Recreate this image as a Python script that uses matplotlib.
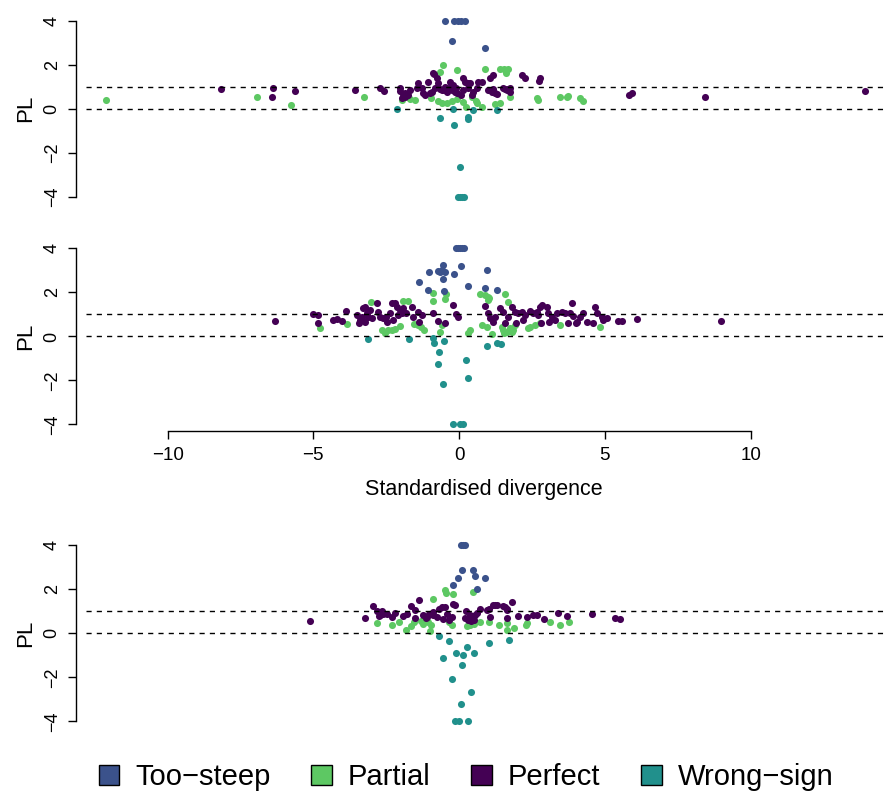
import matplotlib
matplotlib.use("Agg")
import matplotlib.pyplot as plt
import matplotlib.patches as mpatches

plt.rcParams["font.family"] = ["Liberation Sans", "DejaVu Sans"]

# ---- data (standardised divergence, PL) ----
CATEGORIES = ["Too\u2212steep", "Partial", "Perfect", "Wrong\u2212sign"]
REF_LEVELS = [0, 1]
Y_TICKS = [-4, -2, 0, 2, 4]
X_TICKS = [-10, -5, 0, 5, 10]
X_LABEL = "Standardised divergence"
Y_LABEL = "PL"

top_steep = [(-0.48, 4), (-0.16, 4), (-0.05, 4), (0.07, 4), (0.19, 4),
             (-0.23, 3.07), (0.89, 2.75)]
top_partial = [(-12.11, 0.38), (-6.94, 0.52), (-5.78, 0.15), (-3.26, 0.55),
               (-1.95, 0.38), (-1.68, 0.44), (-1.51, 0.39), (-0.97, 0.48),
               (-0.73, 0.33), (-0.6, 0.27), (-0.43, 0.24), (-0.25, 0.36),
               (-0.08, 0.42), (-0.66, 1.68), (-0.54, 1.98), (-0.07, 1.74),
               (0.14, 0.30), (0.24, 0.09), (0.43, 0.52), (0.57, 0.36),
               (0.6, 0.24), (0.78, 0.09), (0.9, 1.79), (1.23, 0.21),
               (1.41, 0.27), (1.40, 1.8), (1.54, 1.82), (1.67, 1.8),
               (1.61, 1.61), (1.75, 0.54), (2.66, 0.5), (2.7, 0.39),
               (3.46, 0.52), (3.69, 0.54), (3.75, 0.59), (4.15, 0.47),
               (4.24, 0.36)]
top_perfect = [(-8.16, 0.9), (-6.4, 0.96), (-6.42, 0.55), (-5.63, 0.78),
               (-3.56, 0.84), (-2.72, 0.95), (-2.57, 0.82), (5.84, 0.62),
               (5.93, 0.7), (8.45, 0.53), (13.91, 0.79),
               (-2.03, 0.92), (-1.86, 0.7), (-1.8, 0.62), (-1.91, 0.59),
               (-1.68, 0.85), (-1.45, 0.92), (-1.4, 1.15), (-1.28, 0.92),
               (-1.23, 0.7), (-1.17, 0.62), (-1.06, 1.22), (-0.94, 0.77),
               (-0.83, 0.92), (-0.89, 1.61), (-0.77, 1.38), (-0.71, 1.15),
               (-0.6, 0.85), (-0.48, 1.0), (-0.43, 0.77), (-0.34, 0.92),
               (-0.25, 0.85), (-0.2, 1.08), (-0.14, 0.74), (-0.31, 1.23),
               (0.14, 1.38), (0.2, 1.22), (0.32, 0.92), (0.37, 1.15),
               (0.49, 0.77), (0.6, 0.92), (0.66, 1.23), (0.78, 1.23),
               (1.06, 1.38), (1.15, 1.53), (1.0, 0.85), (1.12, 0.77),
               (1.23, 0.70), (1.52, 0.92), (1.63, 0.85), (1.75, 0.92),
               (2.15, 1.53), (2.26, 1.38), (2.78, 1.38), (2.75, 1.26),
               (-0.85, 1.57), (-0.66, 0.88), (-0.52, 0.85), (-0.08, 0.70),
               (0.14, 0.85), (0.32, 1.18), (-1.74, 0.62), (1.17, 0.88),
               (1.29, 0.67), (1.57, 0.88), (1.69, 0.88), (1.75, 0.77),
               (-1.0, 0.7), (-0.1, 0.95), (0.05, 0.6), (0.45, 0.62),
               (-2.04, 0.78), (-1.85, 0.55), (-1.96, 0.47)]
top_wrong = [(-2.14, -0.02), (-0.64, -0.42), (-0.22, -0.02), (-0.19, -0.73),
             (0.03, -2.65), (-0.05, -4), (0.03, -4), (0.1, -4), (0.17, -4),
             (0.32, -0.46), (0.29, -0.37), (0.48, -0.07), (1.29, -0.07)]

mid_steep = [(-0.12, 4), (-0.04, 4), (0.04, 4), (0.1, 4), (0.17, 4),
             (-0.56, 3.24), (-0.6, 3.02), (-0.66, 2.94), (-0.48, 2.94),
             (-0.71, 2.98), (-1.02, 2.92), (-0.16, 2.84), (0.07, 3.2),
             (0.95, 3.0), (-0.55, 2.6), (-1.39, 2.47), (0.31, 2.31),
             (0.9, 2.22), (1.29, 2.11), (-1.05, 2.09), (-0.52, 2.06)]
mid_partial = [(-4.77, 0.4), (-3.84, 0.55), (-3.02, 1.57), (-2.65, 0.29),
               (-2.54, 0.14), (-2.43, 0.29), (-2.31, 0.29), (-2.2, 0.34),
               (-2.03, 0.47), (-1.93, 1.62), (-1.76, 1.6), (-1.55, 0.56),
               (-1.4, 0.5), (-1.3, 0.44), (-1.22, 0.3), (-0.9, 1.99),
               (-0.9, 1.63), (-0.45, 1.92), (-0.49, 1.7), (-0.6, 0.52),
               (-0.66, 0.22), (0.32, 0.14), (0.37, 0.29), (0.72, 1.95),
               (0.89, 1.88), (1.0, 1.8), (1.03, 1.73), (0.98, 1.65),
               (1.57, 1.93), (1.69, 1.58), (0.77, 0.52), (0.95, 0.44),
               (1.12, 0.1), (1.46, 0.44), (1.52, 0.29), (1.63, 0.22),
               (1.75, 0.37), (1.86, 0.29), (1.92, 0.52), (1.8, 0.2),
               (1.55, 0.17), (2.35, 0.37), (2.43, 0.44), (2.6, 0.52),
               (2.78, 0.6), (3.47, 0.52), (4.83, 0.42)]
mid_perfect = [(-6.32, 0.68), (-5.0, 1.0), (-4.83, 0.97), (-4.83, 0.62),
               (-4.32, 0.75), (-4.2, 0.79), (-4.03, 0.72), (-3.88, 1.17),
               (5.46, 0.7), (5.58, 0.68), (6.09, 0.78), (8.99, 0.68),
               (-3.49, 0.97), (-3.4, 0.75), (-3.34, 0.9), (-3.42, 0.63),
               (-3.29, 1.28), (-3.23, 1.35), (-3.17, 1.05), (-3.11, 0.9),
               (-3.06, 1.2), (-3.0, 0.82), (-3.23, 0.67), (-2.81, 1.5),
               (-2.77, 1.13), (-2.71, 0.9), (-2.6, 0.82), (-2.51, 0.9),
               (-2.46, 0.67), (-2.37, 1.05), (-2.31, 1.5), (-2.2, 1.52),
               (-2.14, 1.35), (-2.26, 0.75), (-2.09, 0.97), (-2.03, 1.2),
               (-1.97, 1.05), (-1.91, 1.28), (-1.82, 1.05), (-1.63, 1.35),
               (-1.57, 0.9), (-1.4, 1.13), (-1.28, 0.97), (-1.37, 0.67),
               (-0.91, 1.05), (-0.73, 0.71), (-0.48, 0.6), (-0.2, 1.45),
               (-0.1, 1.0), (-0.05, 0.9),
               (0.89, 1.38), (1.0, 1.07), (1.06, 0.82), (1.17, 0.67),
               (1.23, 0.9), (1.57, 0.62), (1.4, 1.28), (1.52, 1.13),
               (1.69, 0.9), (1.8, 1.35), (1.92, 1.13), (2.03, 1.05),
               (2.15, 1.13), (2.26, 0.97), (2.2, 0.75), (2.43, 1.17),
               (2.55, 1.05), (2.66, 1.13), (2.78, 1.35), (2.85, 1.43),
               (2.72, 0.97), (3.0, 1.35), (3.06, 1.05), (3.18, 0.9),
               (3.29, 0.75), (3.35, 1.05), (3.52, 1.13), (3.63, 1.05),
               (3.86, 1.53), (3.8, 1.05), (3.92, 0.93), (4.03, 0.67),
               (4.15, 0.9), (4.26, 1.05), (4.38, 0.67), (4.66, 1.35),
               (4.72, 1.05), (4.89, 0.87), (5.06, 0.85), (3.75, 0.62),
               (4.0, 0.62), (4.6, 0.62), (4.95, 0.75), (1.95, 0.6),
               (2.8, 0.62), (3.1, 0.65)]
mid_wrong = [(-0.2, -4), (0.03, -4), (0.13, -4), (-0.55, -2.16),
             (-0.72, -1.27), (-0.69, -0.7), (0.32, -1.89), (0.22, -1.05),
             (-0.88, -0.09), (-0.85, -0.3), (-0.51, -0.2), (-3.12, -0.12),
             (-1.73, -0.12), (0.95, -0.45), (1.29, -0.31), (1.43, -0.36)]

bot_steep = [(0.08, 4), (0.14, 4), (0.19, 4), (0.09, 2.9), (0.48, 2.9),
             (0.56, 2.6), (0.88, 2.53), (-0.04, 2.52), (-0.2, 2.2),
             (0.62, 2.02)]
bot_partial = [(-0.47, 1.97), (-0.44, 1.85), (-0.2, 1.8), (0.47, 1.9),
               (-0.9, 1.58), (-2.82, 0.46), (-2.3, 0.38), (-2.06, 0.5),
               (-1.83, 0.15), (-1.66, 0.32), (-1.54, 0.52), (-1.3, 0.57),
               (-1.24, 0.42), (-1.07, 0.5), (-0.95, 0.4), (-1.0, 0.13),
               (-1.17, 0.66), (-0.35, 0.5), (-0.24, 0.38), (0.27, 0.33),
               (0.37, 0.4), (0.52, 0.44), (0.7, 0.5), (1.04, 0.52),
               (1.38, 0.4), (1.63, 0.48), (1.64, 0.14), (1.87, 0.26),
               (2.3, 0.38), (2.34, 0.46), (3.13, 0.5), (3.46, 0.4),
               (3.76, 0.54)]
bot_perfect = [(-5.11, 0.58), (-3.23, 0.7), (-2.94, 1.24), (-2.83, 1.0),
               (-2.71, 0.83), (-2.6, 0.9), (-2.48, 0.86), (-2.66, 1.04),
               (-2.2, 0.94), (-1.94, 0.8), (-1.66, 1.24), (-1.51, 1.07),
               (-1.36, 1.52), (-1.23, 0.82), (-1.11, 0.75), (-1.02, 0.86),
               (-0.91, 0.82), (-0.77, 0.75), (-0.68, 1.12), (-0.6, 1.18),
               (-0.48, 1.18), (-0.4, 0.9), (-0.25, 0.75), (-0.2, 1.33),
               (-0.14, 1.27), (0.24, 1.0), (0.37, 0.82), (0.47, 0.7),
               (0.55, 0.82), (0.6, 0.95), (0.72, 1.12), (0.95, 1.05),
               (1.06, 0.75), (1.17, 1.3), (1.29, 1.3), (1.52, 1.24),
               (1.63, 1.12), (1.8, 1.45), (2.03, 0.79), (2.32, 0.73),
               (-1.14, 0.68), (-0.89, 0.97), (2.55, 0.84), (2.66, 0.84),
               (2.91, 0.64), (3.4, 0.94), (3.69, 0.79), (4.55, 0.9),
               (5.35, 0.68), (5.52, 0.64), (1.57, 1.22), (1.65, 1.05),
               (1.63, 0.68), (1.04, 1.12), (1.23, 1.28), (-0.55, 0.65),
               (-0.35, 0.6), (0.3, 0.6), (0.4, 0.55), (0.5, 0.62),
               (0.2, 0.68), (-1.5, 0.72), (-1.8, 0.9), (-2.3, 0.75),
               (-2.75, 0.78)]
bot_wrong = [(-0.14, -4), (0.01, -4), (0.32, -4), (0.08, -3.2),
             (0.41, -2.65), (-0.26, -2.08), (0.09, -1.42), (-0.55, -1.13),
             (-0.11, -0.9), (0.13, -1.0), (0.28, -0.63), (0.51, -0.9),
             (-0.35, -0.33), (-0.69, -0.12), (1.02, -0.45), (1.71, -0.3)]

panels = [
    {"Too\u2212steep": top_steep, "Partial": top_partial,
     "Perfect": top_perfect, "Wrong\u2212sign": top_wrong},
    {"Too\u2212steep": mid_steep, "Partial": mid_partial,
     "Perfect": mid_perfect, "Wrong\u2212sign": mid_wrong},
    {"Too\u2212steep": bot_steep, "Partial": bot_partial,
     "Perfect": bot_perfect, "Wrong\u2212sign": bot_wrong},
]

COLOURS = {"Too\u2212steep": "#3B528B", "Partial": "#5DC863",
           "Perfect": "#440154", "Wrong\u2212sign": "#21908C"}
DRAW_ORDER = ["Partial", "Perfect", "Too\u2212steep", "Wrong\u2212sign"]

# ---- layout (pixels of the 885x794 target) ----
W, H = 885, 794
X0_PX, X_UNIT = 459.1, 29.15       # pixel of x=0, pixels per unit
AX_LEFT = 76
Y_UNIT = 22.0
Y_PAD = 4.32
ZERO_PX = [108.65, 336.45, 633.4]  # pixel row of PL=0 in each panel
DASH_START = -12.8

xlim = ((AX_LEFT - X0_PX) / X_UNIT, (W - X0_PX) / X_UNIT)

fig = plt.figure(figsize=(W / 100, H / 100), dpi=100)

for i, (zero, data) in enumerate(zip(ZERO_PX, panels)):
    bottom_px = zero + Y_PAD * Y_UNIT
    ax = fig.add_axes([AX_LEFT / W, 1 - bottom_px / H,
                       (W - AX_LEFT) / W, 2 * Y_PAD * Y_UNIT / H])
    ax.set_xlim(*xlim)
    ax.set_ylim(-Y_PAD, Y_PAD)

    for cat in DRAW_ORDER:
        xs = [p[0] for p in data[cat]]
        ys = [p[1] for p in data[cat]]
        ax.scatter(xs, ys, s=26, color=COLOURS[cat], linewidths=0,
                   zorder=2, clip_on=False)

    frac = (DASH_START - xlim[0]) / (xlim[1] - xlim[0])
    for lvl in REF_LEVELS:
        ax.axhline(lvl, xmin=frac, xmax=1, color="black", lw=1.0,
                   ls=(0, (3.7, 3.7)), zorder=3)

    for side in ["top", "right"]:
        ax.spines[side].set_visible(False)
    ax.spines["left"].set_bounds(-4, 4)
    ax.spines["left"].set_linewidth(1.0)

    ax.set_yticks(Y_TICKS)
    ax.set_yticklabels([f"{t}".replace("-", "\u2212") for t in Y_TICKS],
                       rotation=90, va="center")
    ax.tick_params(axis="y", length=5.5, width=1.0, labelsize=13, pad=5.5)
    ax.set_ylabel(Y_LABEL, fontsize=16, rotation=90)
    ax.yaxis.set_label_coords((36 - AX_LEFT) / (W - AX_LEFT), 0.5)

    if i == 1:
        ax.spines["bottom"].set_bounds(-10, 10)
        ax.spines["bottom"].set_linewidth(1.0)
        ax.set_xticks(X_TICKS)
        ax.set_xticklabels([f"{t}".replace("-", "\u2212") for t in X_TICKS])
        ax.tick_params(axis="x", length=6.1, width=1.0, labelsize=13.5, pad=5)
        ax.set_xlabel(X_LABEL, fontsize=15.5, labelpad=11)
        ax.xaxis.label.set_x((483.5 - AX_LEFT) / (W - AX_LEFT))
    else:
        ax.spines["bottom"].set_visible(False)
        ax.tick_params(axis="x", bottom=False, labelbottom=False)

handles = [mpatches.Patch(facecolor=COLOURS[c], edgecolor="black", lw=1.0)
           for c in CATEGORIES]
fig.legend(handles, CATEGORIES, loc="center", ncol=4, frameon=False,
           bbox_to_anchor=(466 / W, 1 - 777 / H), fontsize=21,
           handlelength=0.7, handleheight=0.7, handletextpad=0.55,
           columnspacing=1.4, borderpad=0, borderaxespad=0)

fig.savefig("out.png", dpi=100)
